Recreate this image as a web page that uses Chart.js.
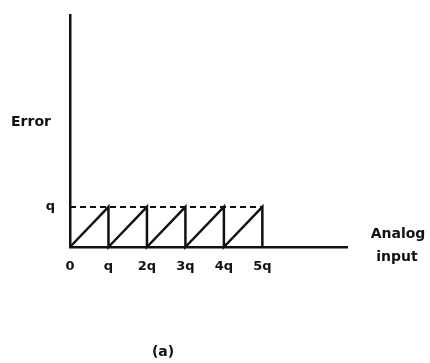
<!DOCTYPE html>
<html>
<head>
<meta charset="utf-8">
<script src="https://cdn.jsdelivr.net/npm/chart.js"></script>
<style>
  html, body { margin: 0; padding: 0; background: #fff; }
  #wrap { width: 430px; height: 363px; }
</style>
</head>
<body>
<div id="wrap"><canvas id="chart-canvas" width="430" height="363"></canvas></div>
<script>
// sawtooth quantisation error, x in units of q
const sawX = [0, 1, 1, 2, 2, 3, 3, 4, 4, 5, 5];
const sawY = [0, 1, 0, 1, 0, 1, 0, 1, 0, 1, 0];
const levelX = [0, 5];
const levelY = [1, 1];
const xTickValues = [0, 1, 2, 3, 4, 5];
const xTickLabels = ["0", "q", "2q", "3q", "4q", "5q"];
const yTickValues = [1];
const yTickLabels = ["q"];

const ink = "#111";
const font = { family: "DejaVu Sans", size: 13, weight: "bold" };

function pts(xs, ys) {
    return xs.map((x, i) => ({ x: x, y: ys[i] }));
}

// free text labels around the plot
const labelsPlugin = {
    id: "labels",
    afterDraw(chart) {
        const c = chart.ctx;
        c.save();
        c.fillStyle = ink;
        c.font = "bold 14px 'DejaVu Sans'";
        c.textAlign = "center";
        c.textBaseline = "middle";
        c.fillText("Error", 31, 122);
        c.fillText("Analog", 398, 234);
        c.fillText("input", 397, 257);
        c.fillText("(a)", 163, 352);
        c.restore();
    }
};

const ctx = document.getElementById("chart-canvas").getContext("2d");
new Chart(ctx, {
    type: "scatter",
    data: {
        datasets: [{
            data: pts(sawX, sawY),
            showLine: true,
            borderColor: ink,
            borderWidth: 2.5,
            pointRadius: 0,
            tension: 0
        }, {
            data: pts(levelX, levelY),
            showLine: true,
            borderColor: ink,
            borderWidth: 2,
            borderDash: [6, 4],
            pointRadius: 0
        }]
    },
    options: {
        responsive: false,
        animation: false,
        clip: false,
        layout: { padding: { top: 4, right: 83, left: 0, bottom: 0 } },
        plugins: { legend: { display: false }, tooltip: { enabled: false } },
        scales: {
            x: {
                type: "linear",
                min: 0,
                max: 7.2,
                grid: { display: false },
                border: { display: true, color: ink, width: 2.5 },
                afterBuildTicks(s) { s.ticks = xTickValues.map(v => ({ value: v })); },
                afterFit(s) { s.height = 116; },
                ticks: {
                    color: ink,
                    font: font,
                    padding: 4,
                    maxRotation: 0,
                    callback: (v) => xTickLabels[xTickValues.indexOf(v)]
                }
            },
            y: {
                type: "linear",
                min: 0,
                max: 5.79,
                grid: { display: false },
                border: { display: true, color: ink, width: 2.5 },
                afterBuildTicks(s) { s.ticks = yTickValues.map(v => ({ value: v })); },
                afterFit(s) { s.width = 70; },
                ticks: {
                    color: ink,
                    font: font,
                    padding: 7,
                    callback: (v) => yTickLabels[yTickValues.indexOf(v)]
                }
            }
        }
    },
    plugins: [labelsPlugin]
});
</script>
</body>
</html>
